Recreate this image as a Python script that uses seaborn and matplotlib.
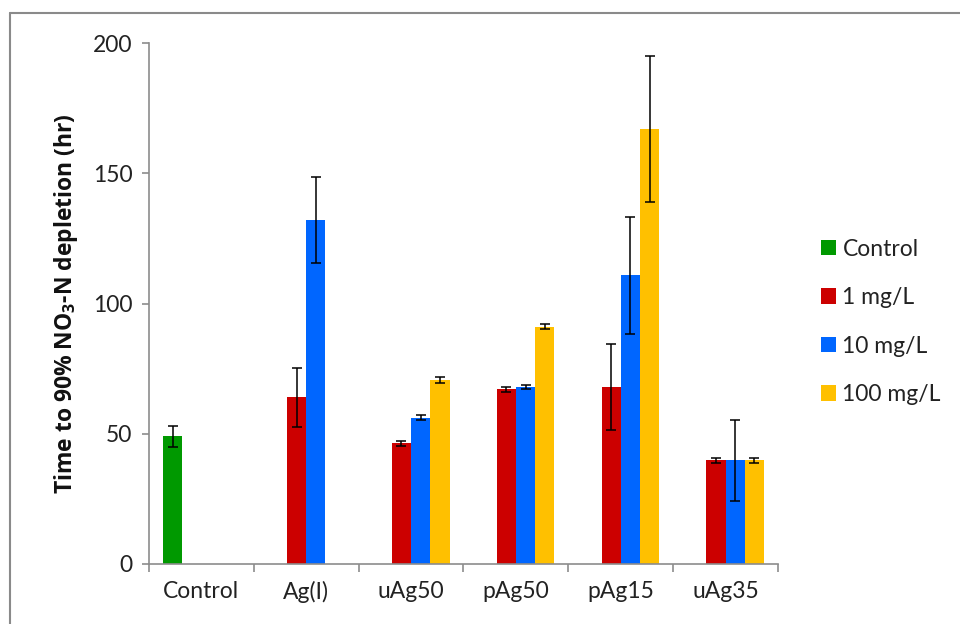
import matplotlib
matplotlib.use("Agg")
import matplotlib.pyplot as plt
import seaborn as sns
import pandas as pd
import numpy as np
from matplotlib.lines import Line2D
from matplotlib.patches import Patch

categories = ["Control", "Ag(I)", "uAg50", "pAg50", "pAg15", "uAg35"]
series = ["Control", "1 mg/L", "10 mg/L", "100 mg/L"]
colors = ["#009900", "#CC0000", "#0066FF", "#FFC000"]

control_vals = [49.0]
control_err = [4.0]
c1_cats = ["Ag(I)", "uAg50", "pAg50", "pAg15", "uAg35"]
c1_vals = [64.0, 46.3, 67.1, 68.0, 39.8]
c1_err = [11.3, 1.1, 1.0, 16.6, 1.0]
c10_cats = ["Ag(I)", "uAg50", "pAg50", "pAg15", "uAg35"]
c10_vals = [132.1, 56.2, 68.0, 110.8, 39.8]
c10_err = [16.6, 1.0, 0.9, 22.4, 15.5]
c100_cats = ["uAg50", "pAg50", "pAg15", "uAg35"]
c100_vals = [70.6, 91.1, 167.0, 39.8]
c100_err = [1.0, 1.0, 27.9, 1.0]

rows = []
rows += [("Control", "Control", v, e) for v, e in zip(control_vals, control_err)]
rows += [(c, "1 mg/L", v, e) for c, v, e in zip(c1_cats, c1_vals, c1_err)]
rows += [(c, "10 mg/L", v, e) for c, v, e in zip(c10_cats, c10_vals, c10_err)]
rows += [(c, "100 mg/L", v, e) for c, v, e in zip(c100_cats, c100_vals, c100_err)]
df = pd.DataFrame(rows, columns=["cat", "series", "value", "err"])

sns.set_theme(style="white")
plt.rcParams["font.family"] = ["Lato", "DejaVu Sans"]
plt.rcParams["mathtext.fontset"] = "custom"
plt.rcParams["mathtext.rm"] = "Open Sans:bold"
plt.rcParams["mathtext.bf"] = "Open Sans:bold"
plt.rcParams["mathtext.default"] = "bf"

fig = plt.figure(figsize=(9.6, 6.24), dpi=100)
ax = fig.add_axes([149/960, 1-564/624, (778-149)/960, (564-43)/624])

sns.barplot(data=df, x="cat", y="value", hue="series", order=categories,
            hue_order=series, palette=colors, width=0.733, errorbar=None,
            saturation=1, ax=ax, legend=False, linewidth=0)

err_lookup = {(r.cat, r.series): r.err for r in df.itertuples()}
for s, cont in zip(series, ax.containers):
    for bar in cont:
        h = bar.get_height()
        if np.isnan(h):
            continue
        xc = bar.get_x() + bar.get_width() / 2
        ci = int(round(xc))
        e = err_lookup.get((categories[ci], s))
        if e is None:
            continue
        ax.errorbar(xc, h, yerr=e, fmt="none", ecolor="black",
                    elinewidth=1.1, capsize=3.8, capthick=1.1)

ax.set_xlim(-0.5, 5.5)
ax.set_ylim(0, 200)
ax.set_yticks([0, 50, 100, 150, 200])
ax.set_xlabel("")
ax.set_ylabel("Time to 90% NO$_3$-N depletion (hr)", fontsize=16.5,
              fontweight="bold", family=["Open Sans", "DejaVu Sans"],
              labelpad=9, color="#111111")

for sp in ["top", "right"]:
    ax.spines[sp].set_visible(False)
for sp in ["left", "bottom"]:
    ax.spines[sp].set_color("#8c8c8c")
    ax.spines[sp].set_linewidth(1.2)

ax.set_xticks(np.arange(-0.5, 6.0, 1.0), minor=True)
ax.tick_params(axis="x", which="major", length=0, pad=12, labelsize=16.5,
               colors="#222222")
ax.tick_params(axis="x", which="minor", length=6, width=1.2, color="#8c8c8c",
               direction="out")
ax.tick_params(axis="y", which="major", length=5, width=1.2, color="#8c8c8c",
               direction="out", labelsize=16.5, pad=7, labelcolor="#222222")
ax.tick_params(axis="both", which="both", bottom=True, left=True)

handles = [Patch(facecolor=c, edgecolor="none") for c in colors]
leg = fig.legend(handles, series, loc="upper left",
                 bbox_to_anchor=(800/960, 1-218/624), frameon=False,
                 fontsize=16.5, handlelength=0.65, handleheight=0.65,
                 handletextpad=0.3, labelspacing=1.2)
for t in leg.get_texts():
    t.set_color("#222222")

fig.add_artist(Line2D([10/960, 1.0], [1-13/624, 1-13/624], color="#8a8a8a",
                      linewidth=1.5, transform=fig.transFigure))
fig.add_artist(Line2D([10/960, 10/960], [0, 1-13/624], color="#8a8a8a",
                      linewidth=1.5, transform=fig.transFigure))

fig.savefig("out.png", dpi=100)
